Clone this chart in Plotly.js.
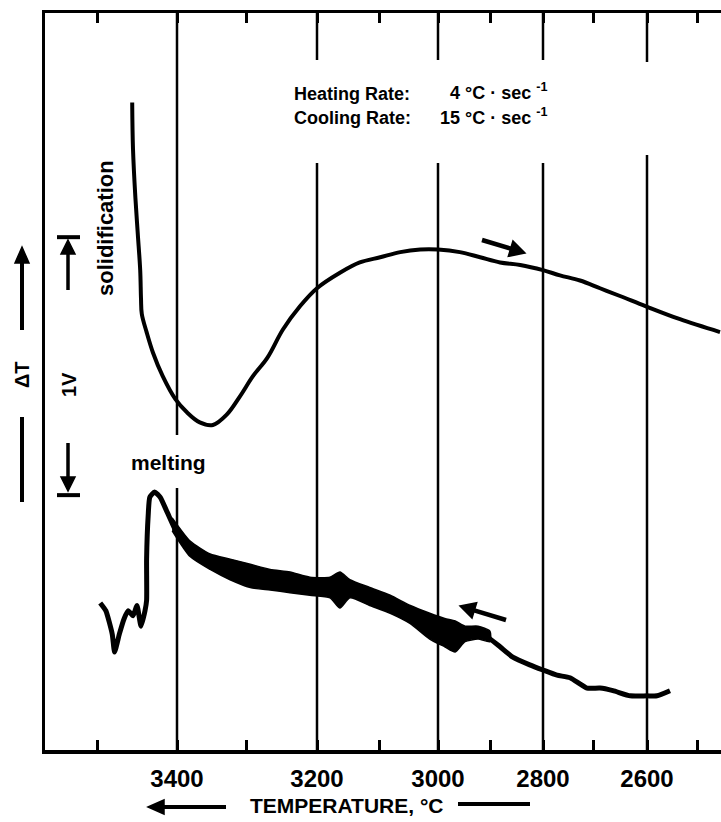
<!DOCTYPE html>
<html>
<head>
<meta charset="utf-8">
<script src="https://cdn.plot.ly/plotly-3.0.1.min.js"></script>
<style>html,body{margin:0;padding:0;background:#fff;}</style>
</head>
<body>
<div id="chart" style="width:721px;height:822px;"></div>
<script>
// Temperature calibration of the recorder's x deflection (chart divisions)
const scaleTemps = [3500, 3400, 3300, 3200, 3100, 3000, 2900, 2800, 2700, 2600, 2500];
const scaleDivs  = [0, 8.0, 14.9, 22.0, 28.2, 34.1, 39.3, 44.6, 49.6, 55.0, 60.0];
const majorTemps = [3400, 3200, 3000, 2800, 2600];
const tickLabels = ['3400', '3200', '3000', '2800', '2600'];
const minorTemps = [3500, 3300, 3100, 2900, 2700, 2500];

// Cooling curve (solidification), temperature in °C, ΔT signal in V
const coolingTemps = [3456,3455,3452,3449,3446,3445,3444,3438,3430,3418,
                      3402,3386,3367,3348,3328,3309,3290,3270,3248,3224,
                      3200,3163,3131,3098,3064,3030,3000,2958,2919,2881,
                      2843,2800,2766,2726,2687,2650,2602,2534,2454];
const coolingDT = [2.51,2.33,2.14,2.00,1.86,1.75,1.69,1.62,1.54,1.45,
                   1.36,1.31,1.27,1.26,1.30,1.37,1.45,1.52,1.63,1.72,
                   1.79,1.85,1.89,1.91,1.93,1.94,1.94,1.93,1.91,1.89,
                   1.88,1.86,1.84,1.82,1.79,1.76,1.72,1.67,1.62];

// Heating curve (melting)
const heatingTemps = [3496,3489,3481,3478,3472,3466,3461,3455,3450,3445,
                      3440,3438,3438,3436,3434,3428,3421,3412,3400,3386,
                      3371,3352,3333,3309,3285,3262,3238,3214,3190,3171,
                      3163,3155,3135,3110,3081,3042,3014,3000,2987,2973,
                      2952,2925,2906,2881,2857,2825,2800,2772,2746,2712,
                      2687,2663,2631,2600,2580,2554];
const heatingDT = [0.57,0.54,0.45,0.38,0.45,0.51,0.54,0.52,0.56,0.48,
                   0.54,0.58,0.74,0.91,0.98,1.00,0.98,0.92,0.84,0.79,
                   0.75,0.73,0.71,0.69,0.67,0.66,0.65,0.64,0.63,0.64,
                   0.58,0.64,0.62,0.59,0.56,0.52,0.47,0.45,0.43,0.44,
                   0.45,0.46,0.44,0.40,0.36,0.33,0.31,0.29,0.28,0.24,
                   0.24,0.23,0.21,0.21,0.21,0.23];

// Noise band around the heating trace
const noiseTemps = [3406,3381,3352,3323,3294,3266,3238,3210,3179,3163,3147,3115,3081,3047,3014,2987,2967,2948,2923,2900];
const noiseUpper = [0.90,0.81,0.76,0.74,0.72,0.70,0.69,0.67,0.67,0.69,0.66,0.63,0.60,0.56,0.53,0.51,0.50,0.48,0.48,0.46];
const noiseLower = [0.85,0.75,0.70,0.66,0.63,0.62,0.61,0.60,0.59,0.55,0.59,0.56,0.53,0.49,0.43,0.40,0.38,0.42,0.43,0.42];

const axisLimits = [3565, 2452];   // °C at the left and right frame edges
const dtLimits = [0, 2.857];       // V

function toDiv(T) {
  const n = scaleTemps.length;
  let i;
  if (T >= scaleTemps[1]) i = 0;
  else if (T <= scaleTemps[n - 2]) i = n - 2;
  else { i = 0; while (!(T <= scaleTemps[i] && T >= scaleTemps[i + 1])) i++; }
  const t0 = scaleTemps[i], t1 = scaleTemps[i + 1], d0 = scaleDivs[i], d1 = scaleDivs[i + 1];
  return d0 + (T - t0) * (d1 - d0) / (t1 - t0);
}

const FAMILY = '"Liberation Sans", Arial, Helvetica, sans-serif';
const W = 721, H = 822, ML = 45, MR = 0, MT = 13, MB = 72;
const PW = W - ML - MR, PH = H - MT - MB;
const X = px => (px - ML) / PW;
const Y = py => (H - MB - py) / PH;
const font = s => ({family: FAMILY, size: s, color: '#000', weight: 700});

const traces = [
  {
    x: noiseTemps.map(toDiv).concat(noiseTemps.slice().reverse().map(toDiv)),
    y: noiseUpper.concat(noiseLower.slice().reverse()),
    type: 'scatter', mode: 'lines', fill: 'toself', fillcolor: '#000',
    line: {color: '#000', width: 1.5, shape: 'spline', smoothing: 0.6}, hoverinfo: 'skip'
  },
  {
    x: heatingTemps.map(toDiv), y: heatingDT, type: 'scatter', mode: 'lines',
    line: {color: '#000', width: 5, shape: 'spline', smoothing: 0.5}
  },
  {
    x: coolingTemps.map(toDiv), y: coolingDT, type: 'scatter', mode: 'lines',
    line: {color: '#000', width: 4, shape: 'spline', smoothing: 1.0}
  }
];

const shapes = [];
majorTemps.forEach(T => {
  const xd = toDiv(T);
  let segs;
  if (T === 3400) segs = [[13, 435], [488, 750]];
  else if (T === 2600) segs = [[13, 62], [155, 750]];
  else segs = [[13, 60], [163, 750]];
  segs.forEach(s => shapes.push({type: 'line', xref: 'x', yref: 'paper', x0: xd, x1: xd,
    y0: Y(s[0]), y1: Y(s[1]), line: {color: '#000', width: 2.5}, layer: 'below'}));
});

// arrows drawn as shapes: shaft + filled head (pixel geometry -> paper units)
function arrowShapes(x0, y0, x1, y1, w, headLen, headHalf) {
  const dx = x1 - x0, dy = y1 - y0, L = Math.hypot(dx, dy);
  const ux = dx / L, uy = dy / L, nx = -uy, ny = ux;
  const bx = x1 - ux * headLen, by = y1 - uy * headLen;
  const pts = [[x1, y1], [bx + nx * headHalf, by + ny * headHalf], [bx - nx * headHalf, by - ny * headHalf]];
  return [
    {type: 'line', xref: 'paper', yref: 'paper', x0: X(x0), y0: Y(y0), x1: X(bx + ux), y1: Y(by + uy),
     line: {color: '#000', width: w}},
    {type: 'path', xref: 'paper', yref: 'paper',
     path: 'M' + pts.map(p => X(p[0]) + ',' + Y(p[1])).join(' L') + ' Z',
     fillcolor: '#000', line: {color: '#000', width: 1.5}}
  ];
}
[
  [22, 330, 22, 247, 4, 16, 7],       // ΔT arrow
  [68, 290, 68, 240, 3.5, 14, 7],     // 1 V bar, upper
  [68, 443, 68, 491, 3.5, 14, 7],     // 1 V bar, lower
  [482, 240, 525, 253, 4.5, 15, 8],   // cooling direction
  [506, 620, 460, 606, 4.5, 15, 8],   // heating direction
  [226, 807, 148, 807, 4, 16, 7]      // title arrow
].forEach(a => arrowShapes(...a).forEach(s => shapes.push(s)));

// ΔT lower line, scale-bar caps (1 V apart), title right line
shapes.push({type: 'line', xref: 'paper', yref: 'paper', x0: X(22), x1: X(22), y0: Y(417), y1: Y(502), line: {color: '#000', width: 4}});
shapes.push({type: 'line', xref: 'paper', yref: 'y', x0: X(57), x1: X(80), y0: 1.988, y1: 1.988, line: {color: '#000', width: 4}});
shapes.push({type: 'line', xref: 'paper', yref: 'y', x0: X(57), x1: X(80), y0: 0.988, y1: 0.988, line: {color: '#000', width: 4}});
shapes.push({type: 'line', xref: 'paper', yref: 'paper', x0: X(458), x1: X(530), y0: Y(804), y1: Y(804), line: {color: '#000', width: 4}});

const label = (txt, px, py, size, opts) => Object.assign({xref: 'paper', yref: 'paper', x: X(px), y: Y(py),
  text: txt, showarrow: false, font: font(size), xanchor: 'center', yanchor: 'middle'}, opts || {});

const annotations = [
  label('Heating Rate:', 292, 94, 18, {xanchor: 'left'}),
  label('4 °C · sec <sup>-1</sup>', 549, 92, 18, {xanchor: 'right'}),
  label('Cooling Rate:', 292, 118, 18, {xanchor: 'left'}),
  label('15 °C · sec <sup>-1</sup>', 549, 116, 18, {xanchor: 'right'}),
  label('solidification', 105, 228, 22, {textangle: -90}),
  label('melting', 168, 462, 21),
  label('ΔT', 22, 375, 20, {textangle: -90}),
  label('1V', 69, 385, 20, {textangle: -90}),
  label('TEMPERATURE, °C', 347, 805, 21)
];

const layout = {
  width: W, height: H,
  margin: {l: ML, r: MR, t: MT, b: MB},
  paper_bgcolor: '#fff', plot_bgcolor: '#fff',
  showlegend: false,
  xaxis: {
    range: axisLimits.map(toDiv), autorange: false,
    tickmode: 'array', tickvals: majorTemps.map(toDiv), ticktext: tickLabels,
    ticks: 'inside', ticklen: 10, tickwidth: 3, tickcolor: '#000',
    minor: {tickmode: 'array', tickvals: minorTemps.map(toDiv), ticks: 'inside', ticklen: 10, tickwidth: 3, tickcolor: '#000', showgrid: false},
    showline: true, linecolor: '#000', linewidth: 3.5, mirror: 'ticks',
    showgrid: false, zeroline: false,
    tickfont: font(24), ticklabelstandoff: 5
  },
  yaxis: {
    range: dtLimits, autorange: false,
    showline: true, linecolor: '#000', linewidth: 3.5,
    showticklabels: false, ticks: '', showgrid: false, zeroline: false
  },
  shapes: shapes,
  annotations: annotations
};

Plotly.newPlot('chart', traces, layout, {staticPlot: true, displayModeBar: false});
</script>
</body>
</html>
